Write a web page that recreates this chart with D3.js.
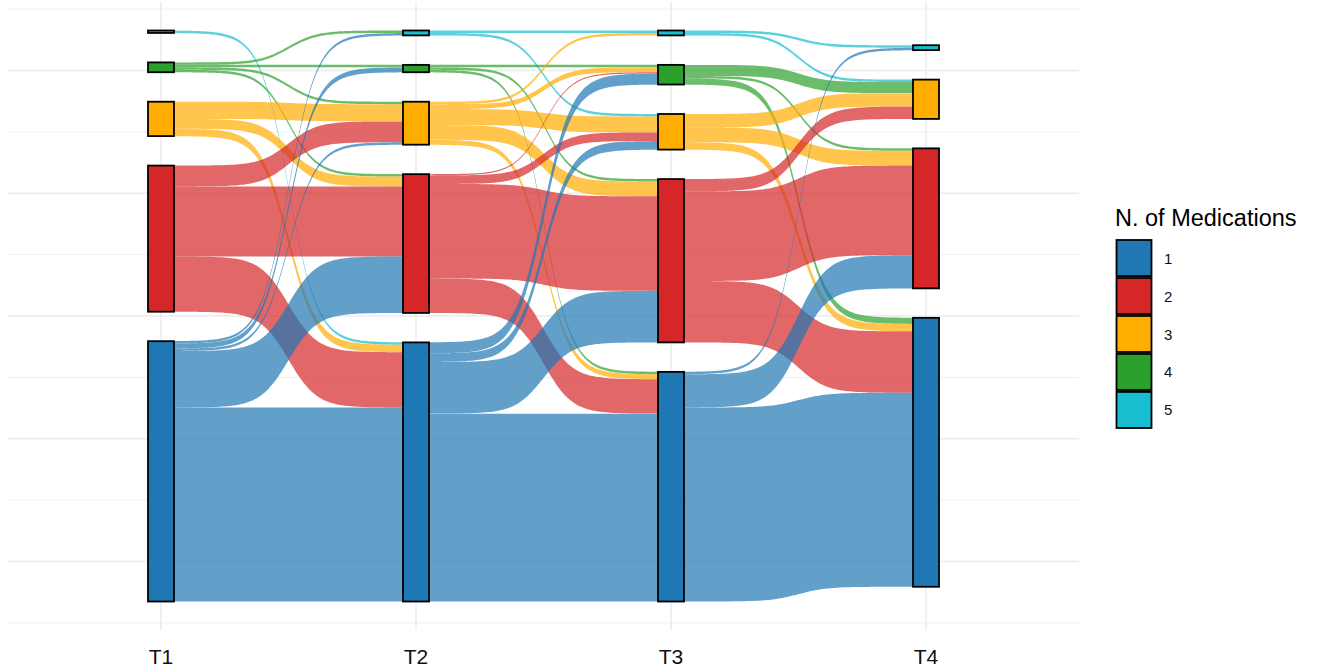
<!DOCTYPE html>
<html>
<head>
<meta charset="utf-8">
<script src="https://cdn.jsdelivr.net/npm/d3@7"></script>
<style>
  html, body { margin: 0; padding: 0; background: #ffffff; }
  svg { display: block; }
  text { font-family: "Liberation Sans", Arial, "DejaVu Sans", sans-serif; }
</style>
</head>
<body>
<svg id="chart" width="1320" height="672"></svg>
<script>
// ---------------- data ----------------
const times = ["T1", "T2", "T3", "T4"];
const levels = [1, 2, 3, 4, 5];
const levelLabels = ["1", "2", "3", "4", "5"];
const levelColors = ["#1f77b4", "#d62728", "#ffad00", "#2ca02c", "#17becf"];
const legendTitle = "N. of Medications";

// flows between consecutive time points: [from level, to level, count]
const flowsT1T2 = [
  [5, 1, 2],
  [4, 5, 2], [4, 4, 2], [4, 3, 2], [4, 2, 2],
  [3, 3, 14], [3, 2, 8], [3, 1, 6],
  [2, 3, 17], [2, 2, 57], [2, 1, 45],
  [1, 5, 2], [1, 4, 4], [1, 3, 2], [1, 2, 46], [1, 1, 158]
];
const flowsT2T3 = [
  [5, 5, 2], [5, 3, 2],
  [4, 4, 2], [4, 2, 2], [4, 1, 2],
  [3, 5, 2], [3, 4, 4], [3, 3, 13], [3, 2, 12], [3, 1, 4],
  [2, 4, 1], [2, 3, 7], [2, 2, 77], [2, 1, 28],
  [1, 4, 9], [1, 3, 7], [1, 2, 42], [1, 1, 153]
];
const flowsT3T4 = [
  [5, 5, 2], [5, 3, 2],
  [4, 3, 9], [4, 2, 2], [4, 1, 5],
  [3, 3, 11], [3, 2, 12], [3, 1, 6],
  [2, 3, 10], [2, 2, 73], [2, 1, 50],
  [1, 5, 2], [1, 2, 27], [1, 1, 158]
];
const transitions = [flowsT1T2, flowsT2T3, flowsT3T4];

const yMajorTicks = [-200, -100, 0, 100, 200];
const yMinorTicks = [-250, -150, -50, 50, 150, 250];

// ---------------- layout ----------------
const svg = d3.select("#chart");
const gap = 24;          // space between nodes (data units)
const nodeWidth = 26;    // px
const smooth = 8;

const x = d3.scalePoint().domain(times).range([161, 926]);
const y = d3.scaleLinear().domain([-250, 250]).range([623, 9]);
const color = d3.scaleOrdinal().domain(levels).range(levelColors);

const panel = { left: 8, right: 1079, top: 2, bottom: 630 };

// grid
const grid = svg.append("g");
grid.selectAll("line.minor").data(yMinorTicks).join("line")
  .attr("x1", panel.left).attr("x2", panel.right)
  .attr("y1", d => y(d)).attr("y2", d => y(d))
  .attr("stroke", "#ebebeb").attr("stroke-width", 0.8);
grid.selectAll("line.major").data(yMajorTicks).join("line")
  .attr("x1", panel.left).attr("x2", panel.right)
  .attr("y1", d => y(d)).attr("y2", d => y(d))
  .attr("stroke", "#ebebeb").attr("stroke-width", 1.5);
grid.selectAll("line.vx").data(times).join("line")
  .attr("x1", d => x(d)).attr("x2", d => x(d))
  .attr("y1", panel.top).attr("y2", panel.bottom)
  .attr("stroke", "#ebebeb").attr("stroke-width", 1.5);

// node sizes per time
const nodeCounts = times.map(() => ({}));
transitions.forEach((fl, i) => {
  fl.forEach(([a, b, v]) => {
    nodeCounts[i][a] = (nodeCounts[i][a] || 0) + v;
    if (i === transitions.length - 1) nodeCounts[i + 1][b] = (nodeCounts[i + 1][b] || 0) + v;
  });
});

const nodes = [];
const nodeIndex = {};
times.forEach((t, i) => {
  const present = levels.filter(l => (nodeCounts[i][l] || 0) > 0);
  const total = d3.sum(present, l => nodeCounts[i][l]) + gap * (present.length - 1);
  let cur = -total / 2;
  present.forEach(l => {
    const n = { time: t, ti: i, level: l, y0: cur, y1: cur + nodeCounts[i][l] };
    nodes.push(n);
    nodeIndex[i + "_" + l] = n;
    cur = n.y1 + gap;
  });
});

// flows
const flows = [];
transitions.forEach((fl, i) => {
  const outCur = {}, inCur = {};
  levels.forEach(l => {
    if (nodeIndex[i + "_" + l]) outCur[l] = nodeIndex[i + "_" + l].y1;
    if (nodeIndex[(i + 1) + "_" + l]) inCur[l] = nodeIndex[(i + 1) + "_" + l].y1;
  });
  const bySrc = fl.slice().sort((p, q) => q[0] - p[0] || q[1] - p[1]);
  const f = bySrc.map(([a, b, v]) => ({ ti: i, from: a, to: b, v }));
  f.forEach(d => { d.sTop = outCur[d.from]; d.sBot = d.sTop - d.v; outCur[d.from] = d.sBot; });
  const byTgt = f.slice().sort((p, q) => q.to - p.to || q.from - p.from);
  byTgt.forEach(d => { d.tTop = inCur[d.to]; d.tBot = d.tTop - d.v; inCur[d.to] = d.tBot; });
  flows.push(...f);
});

function sigmoidPts(x0, x1, y0, y1, n) {
  const pts = [];
  for (let k = 0; k < n; k++) {
    const t = -smooth + (2 * smooth) * k / (n - 1);
    const s = 1 / (1 + Math.exp(-t));
    const xx = x0 + (x1 - x0) * k / (n - 1);
    pts.push([xx, y0 + (y1 - y0) * s]);
  }
  return pts;
}

function flowPath(d) {
  const x0 = x(times[d.ti]) + nodeWidth / 2;
  const x1 = x(times[d.ti + 1]) - nodeWidth / 2;
  const top = sigmoidPts(x0, x1, y(d.sTop), y(d.tTop), 120);
  const bot = sigmoidPts(x0, x1, y(d.sBot), y(d.tBot), 120).reverse();
  const pts = [[x0 - nodeWidth / 2, y(d.sTop)], ...top, [x1 + nodeWidth / 2, y(d.tTop)],
               [x1 + nodeWidth / 2, y(d.tBot)], ...bot, [x0 - nodeWidth / 2, y(d.sBot)]];
  return "M" + pts.map(p => p[0].toFixed(2) + "," + p[1].toFixed(2)).join("L") + "Z";
}

// draw higher levels first so lower levels end on top
const drawOrder = flows.slice().sort((p, q) => q.from - p.from);
svg.append("g").selectAll("path").data(drawOrder).join("path")
  .attr("d", flowPath)
  .attr("fill", d => color(d.from))
  .attr("fill-opacity", 0.7);

// nodes
svg.append("g").selectAll("rect").data(nodes).join("rect")
  .attr("x", d => x(d.time) - nodeWidth / 2)
  .attr("width", nodeWidth)
  .attr("y", d => y(d.y1))
  .attr("height", d => y(d.y0) - y(d.y1))
  .attr("fill", d => color(d.level))
  .attr("stroke", "#000")
  .attr("stroke-width", 1.8);

// x axis labels
svg.append("g").selectAll("text").data(times).join("text")
  .attr("x", d => x(d)).attr("y", 664)
  .attr("text-anchor", "middle")
  .attr("font-size", 21)
  .attr("fill", "#111")
  .text(d => d);

// legend
const lg = svg.append("g");
lg.append("text").attr("x", 1115).attr("y", 226)
  .attr("font-size", 23.5).attr("fill", "#000").text(legendTitle);
const keyY = d3.scaleBand().domain(levels).range([240, 428]).paddingInner(0.05);
lg.selectAll("rect").data(levels).join("rect")
  .attr("x", 1116.5).attr("y", d => keyY(d))
  .attr("width", 35).attr("height", keyY.bandwidth())
  .attr("fill", d => color(d)).attr("stroke", "#000").attr("stroke-width", 1.8);
lg.selectAll("text.lab").data(levels).join("text")
  .attr("class", "lab")
  .attr("x", 1164).attr("y", d => keyY(d) + keyY.bandwidth() / 2 + 5.5)
  .attr("font-size", 15).attr("fill", "#111")
  .text((d, i) => levelLabels[i]);
</script>
</body>
</html>
